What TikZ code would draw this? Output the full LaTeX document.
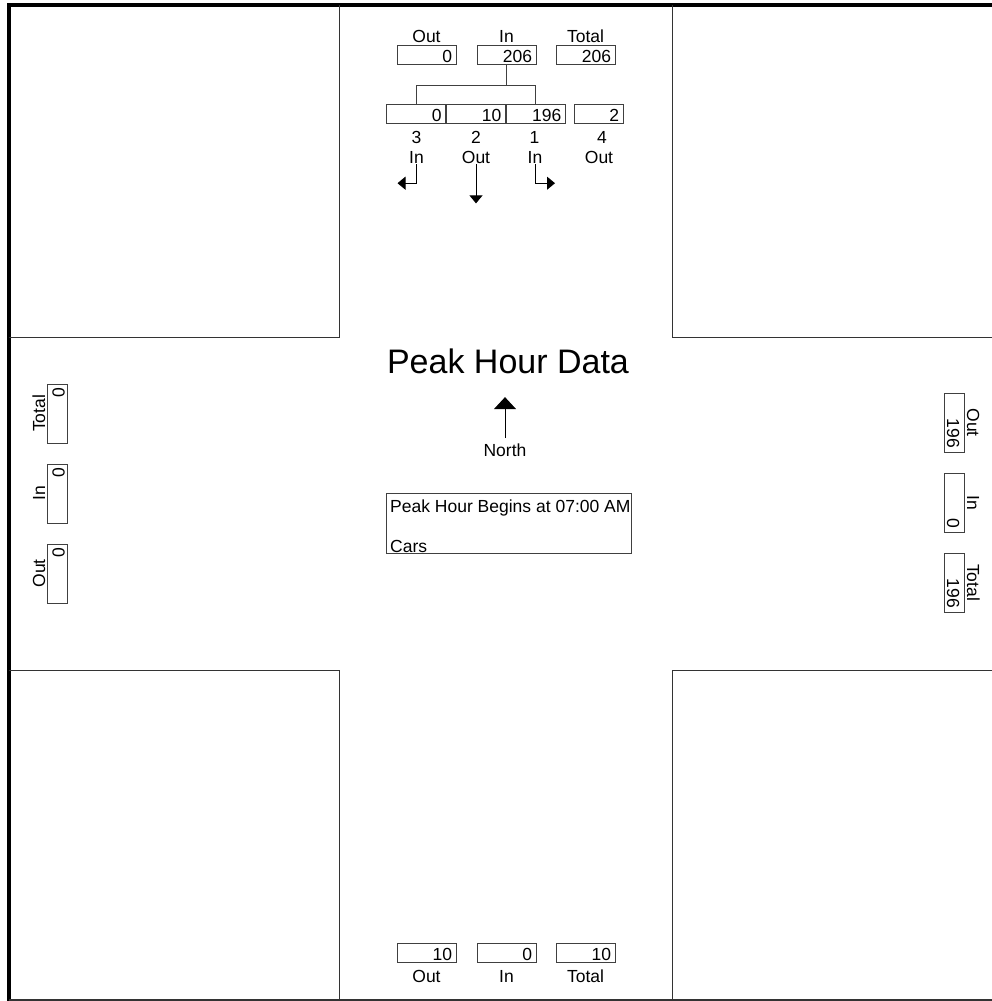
\documentclass[tikz,border=0pt]{standalone}
\usepackage{fontspec}
\setmainfont{Liberation Sans}
\usetikzlibrary{positioning, arrows.meta}

\begin{document}
\begin{tikzpicture}[x=1pt, y=-1pt,
    valbox/.style={draw=black!75, line width=0.9pt, minimum width=59pt, minimum height=19pt,
        inner xsep=4pt, inner ysep=0pt, text width=51pt, align=right,
        text height=16pt, text depth=1pt, font=\fontsize{17.5}{20}\selectfont},
    lbl/.style={inner sep=1pt, anchor=base, font=\fontsize{17.5}{20}\selectfont},
    quad/.style={draw=black!80, line width=1.3pt},
    turn/.style={line width=0.9pt, -{Triangle[width=13pt,length=8pt]}}]
    \useasboundingbox (0,0) rectangle (992,1001);

    % outer frame
    \draw[line width=4pt] (8.7,1001) -- (8.7,5.3) -- (992,5.3);
    \draw[line width=1.5pt, black!80] (8.7,1000) -- (992,1000);

    % ; the four corner blocks ;
    \draw[quad] (8.7,337.3) -- (339.3,337.3) -- (339.3,5.3);     % top left
    \draw[quad] (672.3,5.3) -- (672.3,337.3) -- (992,337.3);     % top right
    \draw[quad] (8.7,670.7) -- (339.3,670.7) -- (339.3,1000);    % bottom left
    \draw[quad] (992,670.7) -- (672.3,670.7) -- (672.3,1000);    % bottom right

    % north approach: totals
    \node[lbl] at (426.5,42.5) {Out};
    \node[lbl] at (506.5,42.5) {In};
    \node[lbl] at (585.5,42.5) {Total};
    \node[valbox] (outN) at (426.5,54.5) {0};
    \node[valbox] (inN)  at (506.5,54.5) {206};
    \node[valbox] (totN) at (585.5,54.5) {206};

    % north approach: movements
    \node[valbox] (lane3) at (416,113.5) {0};
    \node[valbox, right=0pt of lane3] (lane2) {10};
    \node[valbox, right=0pt of lane2] (lane1) {196};
    \node[valbox, minimum width=49pt, text width=41pt] (lane4) at (598.5,113.5) {2};

    % bracket from In total to the lanes
    \draw[draw=black!75, line width=0.9pt] (inN.south) -- (inN.south |- 0,85);
    \draw[draw=black!75, line width=0.9pt] (lane3.north) |- (lane1.north |- 0,85) -- (lane1.north);

    % movement numbers and directions
    \node[lbl] (num3) at (416.5,143) {3};
    \node[lbl] (num2) at (476,143) {2};
    \node[lbl] (num1) at (534.5,143) {1};
    \node[lbl] (num4) at (602,143) {4};
    \node[lbl] (dir3) at (416.5,163) {In};
    \node[lbl] (dir2) at (476,163) {Out};
    \node[lbl] (dir1) at (535,163) {In};
    \node[lbl] (dir4) at (599,163) {Out};

    \draw[turn] (dir3.south) |- ++(-19,19);
    \draw[turn] (dir2.south) -- ++(0,39);
    \draw[turn] (dir1.south) |- ++(20,19);

    % title and north arrow
    \node[inner sep=0pt, anchor=base, font=\fontsize{34}{40}\selectfont] (title) at (508,373) {Peak Hour Data};
    \node[lbl] (north) at (505,456) {North};
    \draw[line width=0.9pt, shorten <=4pt, -{Triangle[width=22pt,length=12pt]}] (north.north) -- ++(0,-45);

    % info box
    \node[draw=black!75, line width=0.9pt, minimum width=245pt, minimum height=60pt, inner sep=0pt] (info) at (508.5,523) {};
    \node[lbl, anchor=base west] (begins) at (389,512) {Peak Hour Begins at 07:00 AM};
    \node[lbl, anchor=base west] (cars) at (389,552) {Cars};

    % west approach
    \node[valbox, minimum height=20pt, rotate=90] (totW) at (57,413.5) {0};
    \node[valbox, minimum height=20pt, rotate=90] (inW)  at (57,493.5) {0};
    \node[valbox, minimum height=20pt, rotate=90] (outW) at (57,573.5) {0};
    \node[lbl, rotate=90] at (45,413.5) {Total};
    \node[lbl, rotate=90] at (45,493.5) {In};
    \node[lbl, rotate=90] at (45,573.5) {Out};

    % east approach
    \node[valbox, minimum height=20pt, rotate=-90] (outE) at (954.5,422.5) {196};
    \node[valbox, minimum height=20pt, rotate=-90] (inE)  at (954.5,502.5) {0};
    \node[valbox, minimum height=20pt, rotate=-90] (totE) at (954.5,582.5) {196};
    \node[lbl, rotate=-90] at (967,422.5) {Out};
    \node[lbl, rotate=-90] at (967,502.5) {In};
    \node[lbl, rotate=-90] at (967,582.5) {Total};

    % south approach
    \node[valbox] (outS) at (426.5,952.5) {10};
    \node[valbox] (inS)  at (506.5,952.5) {0};
    \node[valbox] (totS) at (585.5,952.5) {10};
    \node[lbl] at (426.5,982) {Out};
    \node[lbl] at (506.5,982) {In};
    \node[lbl] at (585.5,982) {Total};
\end{tikzpicture}
\end{document}
